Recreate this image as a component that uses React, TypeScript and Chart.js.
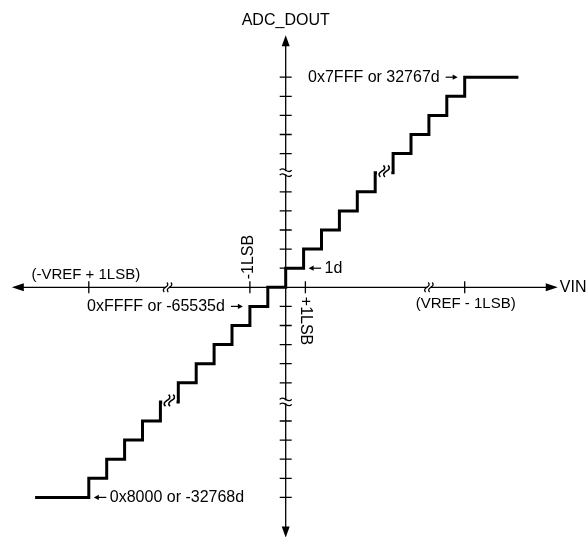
import { useEffect, useRef } from 'react';
import { Chart, registerables } from 'chart.js';

Chart.register(...registerables);

// ---- data (in LSB units) ----
const stairVin = [-14, -11, -10, -9, -8, -7, -6, -5, -4, -3, -2, -1, 0, 1, 2, 3, 4, 5, 6, 7, 8, 9, 10, 13];
const stairCode = [-11, -10, -9, -8, -7, -6, -5, -4, -3, -2, -1, 0, 1, 2, 3, 4, 5, 6, 7, 8, 9, 10, 11, 11];
const codeTicks = [-11, -10, -9, -8, -7, -5, -4, -3, -2, -1, 1, 2, 3, 4, 5, 7, 8, 9, 10, 11];
const codeBreaks = [-6, 6];
const vinTicks = [-11, -2, 1.1, 10];
const vinTickLabels = ['(-VREF + 1LSB)', '-1LSB', '+1LSB', '(VREF - 1LSB)'];
const vinBreaks = [-6.6, 8];
const stairBreakVin = [-6.5, 5.5];
const stairBreakCode = [-6, 6];
const noteText = ['0x7FFF or 32767d', '1d', '0xFFFF or -65535d', '0x8000 or -32768d'];
const noteVin = [10, 1, -2, -11];
const noteCode = [11, 1, -1, -11];
const noteTextLeft = [true, false, true, false];
const axisTitles = ['VIN', 'ADC_DOUT'];
const vinRange = [-15.3, 15.2];
const codeRange = [-13.1, 13.2];

const FONT = "'Liberation Sans', Arial, sans-serif";

function wave(ctx: CanvasRenderingContext2D, cx: number, cy: number, ang: number, len: number, amp: number) {
  ctx.save();
  ctx.translate(cx, cy);
  ctx.rotate(ang);
  ctx.beginPath();
  ctx.moveTo(-len / 2, 0);
  ctx.bezierCurveTo(-len / 6, -amp * 2, len / 6, amp * 2, len / 2, 0);
  ctx.stroke();
  ctx.restore();
}

function head(ctx: CanvasRenderingContext2D, tx: number, ty: number, dx: number, dy: number, len: number, half: number) {
  const bx = tx - dx * len;
  const by = ty - dy * len;
  ctx.beginPath();
  ctx.moveTo(tx, ty);
  ctx.lineTo(bx - dy * half, by + dx * half);
  ctx.lineTo(bx + dy * half, by - dx * half);
  ctx.closePath();
  ctx.fill();
}

const adcPlugin = {
  id: 'adcAxes',
  beforeDatasetsDraw(chart: any) {
    const { ctx, scales } = chart;
    const X = (v: number) => scales.x.getPixelForValue(v);
    const Y = (v: number) => scales.y.getPixelForValue(v);
    const x0 = X(0);
    const y0 = Y(0);
    ctx.save();
    ctx.strokeStyle = '#000';
    ctx.fillStyle = '#000';
    ctx.lineWidth = 1.3;
    // axis lines
    ctx.beginPath();
    ctx.moveTo(X(vinRange[0]) + 8, y0);
    ctx.lineTo(X(vinRange[1]) - 8, y0);
    ctx.moveTo(x0, Y(codeRange[1]) + 8);
    ctx.lineTo(x0, Y(codeRange[0]) - 8);
    ctx.stroke();
    head(ctx, X(vinRange[0]), y0, -1, 0, 12, 4);
    head(ctx, X(vinRange[1]), y0, 1, 0, 12, 4);
    head(ctx, x0, Y(codeRange[1]), 0, -1, 11, 4);
    head(ctx, x0, Y(codeRange[0]), 0, 1, 11, 4);
    // ticks
    ctx.beginPath();
    codeTicks.forEach((v) => {
      ctx.moveTo(x0 - 6, Y(v));
      ctx.lineTo(x0 + 6, Y(v));
    });
    vinTicks.forEach((v) => {
      ctx.moveTo(X(v), y0 - 6);
      ctx.lineTo(X(v), y0 + 6);
    });
    ctx.stroke();
    // axis breaks
    ctx.lineWidth = 1.3;
    vinBreaks.forEach((v) => {
      const cx = X(v);
      ctx.fillStyle = '#fff';
      ctx.fillRect(cx - 1.5, y0 - 2, 3, 4);
      wave(ctx, cx - 2, y0, -1.3, 10, 2.6);
      wave(ctx, cx + 2, y0, -1.3, 10, 2.6);
    });
    codeBreaks.forEach((v) => {
      const cy = Y(v);
      ctx.fillStyle = '#fff';
      ctx.fillRect(x0 - 2, cy - 1.5, 4, 3);
      wave(ctx, x0, cy - 2.5, 0, 12, 2.6);
      wave(ctx, x0, cy + 2.5, 0, 12, 2.6);
    });
    // labels
    ctx.fillStyle = '#000';
    ctx.font = `16px ${FONT}`;
    ctx.textAlign = 'left';
    ctx.textBaseline = 'middle';
    ctx.fillText(axisTitles[0], X(vinRange[1]) + 2, y0);
    ctx.textAlign = 'center';
    ctx.textBaseline = 'alphabetic';
    ctx.fillText(axisTitles[1], x0, 25);

    vinTicks.forEach((v, i) => {
      const px = X(v);
      const txt = vinTickLabels[i];
      if (i === 0 || i === 3) {
        ctx.font = `15px ${FONT}`;
        ctx.textAlign = 'center';
        ctx.textBaseline = 'alphabetic';
        if (i === 0) ctx.fillText(txt, px - 3, y0 - 8.5);
        else ctx.fillText(txt, px + 1, y0 + 20.5);
      } else {
        ctx.font = `16px ${FONT}`;
        ctx.save();
        ctx.textAlign = 'left';
        ctx.textBaseline = 'middle';
        if (i === 1) {
          ctx.translate(px - 1, y0 - 8);
          ctx.rotate(-Math.PI / 2);
        } else {
          ctx.translate(px, y0 + 9.5);
          ctx.rotate(Math.PI / 2);
        }
        ctx.fillText(txt, 0, 0);
        ctx.restore();
      }
    });
    ctx.restore();
  },
  afterDatasetsDraw(chart: any) {
    const { ctx, scales } = chart;
    const X = (v: number) => scales.x.getPixelForValue(v);
    const Y = (v: number) => scales.y.getPixelForValue(v);
    const unit = X(1) - X(0);
    ctx.save();
    // staircase breaks
    stairBreakVin.forEach((v, i) => {
      const bx = X(v);
      const by = Y(stairBreakCode[i]);
      ctx.fillStyle = '#fff';
      ctx.fillRect(bx - unit / 2 + 1.8, by - 3, unit - 3.6, 6);
      ctx.strokeStyle = '#000';
      ctx.lineWidth = 1.6;
      wave(ctx, bx - 2.3, by - 1.5, -1.3, 12, 3.4);
      wave(ctx, bx + 2.3, by - 1.5, -1.3, 12, 3.4);
    });
    // annotations
    ctx.fillStyle = '#000';
    ctx.strokeStyle = '#000';
    ctx.lineWidth = 1.2;
    ctx.font = `16px ${FONT}`;
    ctx.textBaseline = 'middle';
    noteText.forEach((txt, i) => {
      const ax = X(noteVin[i]);
      const ay = Y(noteCode[i]);
      if (noteTextLeft[i]) {
        const tip = ax - 7;
        ctx.beginPath();
        ctx.moveTo(ax - 19, ay);
        ctx.lineTo(tip - 3, ay);
        ctx.stroke();
        head(ctx, tip, ay, 1, 0, 5, 2.6);
        ctx.textAlign = 'right';
        ctx.fillText(txt, ax - 25, ay);
      } else {
        const tip = ax + 5;
        ctx.beginPath();
        ctx.moveTo(ax + 17.5, ay);
        ctx.lineTo(tip + 3, ay);
        ctx.stroke();
        head(ctx, tip, ay, -1, 0, 5, 2.6);
        ctx.textAlign = 'left';
        ctx.fillText(txt, ax + 21, ay);
      }
    });
    ctx.restore();
  },
};

export default function App() {
  const canvasRef = useRef<HTMLCanvasElement | null>(null);

  useEffect(() => {
    if (!canvasRef.current) return;
    const chart = new Chart(canvasRef.current, {
      type: 'line',
      data: {
        datasets: [
          {
            data: stairVin.map((v, i) => ({ x: v, y: stairCode[i] })),
            stepped: 'before',
            borderColor: '#000',
            borderWidth: 3,
            borderJoinStyle: 'miter',
            borderCapStyle: 'butt',
            pointRadius: 0,
            fill: false,
          } as any,
        ],
      },
      options: {
        responsive: false,
        animation: false,
        devicePixelRatio: 1,
        events: [],
        layout: { padding: { left: 8.25, right: 14.9, top: 39, bottom: 1.4 } },
        scales: {
          x: { type: 'linear', min: -15.5, max: 16, display: false },
          y: { type: 'linear', min: -13, max: 13, display: false },
        },
        plugins: { legend: { display: false }, tooltip: { enabled: false } },
      },
      plugins: [adcPlugin],
    });
    return () => chart.destroy();
  }, []);

  return (
    <div style={{ position: 'fixed', left: 0, top: 0, width: 587, height: 537, background: '#fff' }}>
      <canvas ref={canvasRef} width={587} height={537} style={{ display: 'block', width: 587, height: 537 }} />
    </div>
  );
}
